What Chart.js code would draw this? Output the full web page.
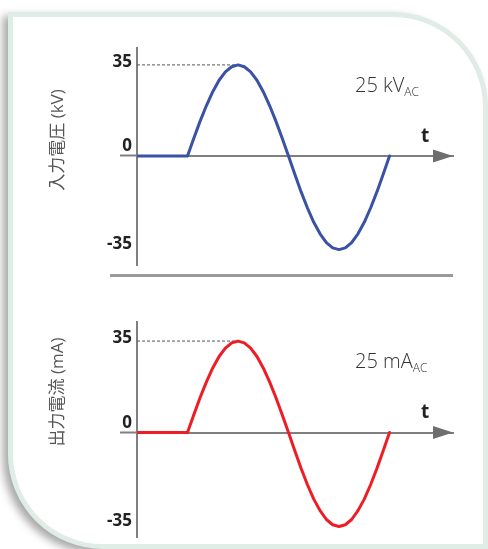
<!DOCTYPE html>
<html><head><meta charset="utf-8">
<script src="https://cdn.jsdelivr.net/npm/chart.js@4.4.1/dist/chart.umd.min.js"></script>
<style>
html,body{margin:0;padding:0;background:#fff;width:488px;height:549px;overflow:hidden;position:relative}
.card{position:absolute;left:8px;top:12px;width:480px;height:537px;box-sizing:border-box;border:5px solid #dfede6;border-radius:0 95px 0 95px;background:#fff;box-shadow:-5px 4px 8px rgba(0,0,0,0.35)}
canvas{position:absolute;left:0}
#c1{top:0}
#c2{top:275px}
.divider{position:absolute;left:110px;top:273.5px;width:343px;height:3px;background:#9a9a9a}
.ytitle{position:absolute;transform:translate(-50%,-50%) rotate(-90deg);white-space:nowrap;font:17px 'Open Sans','Noto Sans CJK JP',sans-serif;color:#555}
.unit{position:absolute;left:355px;font:300 20px/20px 'Open Sans',sans-serif;color:#333;white-space:nowrap}
.unit span{font-size:12px;position:relative;top:4px}
.t{position:absolute;left:421px;font:bold 19px/19px 'Open Sans',sans-serif;color:#222}
</style>
</head>
<body>
<div class="card"></div>
<canvas id="c1" width="488" height="275"></canvas>
<canvas id="c2" width="488" height="274"></canvas>
<div class="divider"></div>
<div class="ytitle" style="left:55px;top:140px">入力電圧 (kV)</div>
<div class="ytitle" style="left:55px;top:392px">出力電流 (mA)</div>
<div class="unit" style="top:75px">25 kV<span>AC</span></div>
<div class="unit" style="top:351px">25 mA<span>AC</span></div>
<div class="t" style="top:126px">t</div>
<div class="t" style="top:402px">t</div>
<script>
// time (arbitrary units)
const timeSteps = [0, 1, 1.125, 1.25, 1.375, 1.5, 1.625, 1.75, 1.875, 2, 2.125, 2.25, 2.375, 2.5, 2.625, 2.75, 2.875, 3,
  3.125, 3.25, 3.375, 3.5, 3.625, 3.75, 3.875, 4, 4.125, 4.25, 4.375, 4.5, 4.625, 4.75, 4.875, 5];
// input voltage (kV)
const inputVoltage = [0, 0, 6.8, 13.4, 19.4, 24.7, 29.1, 32.3, 34.3, 35, 34.3, 32.3, 29.1, 24.7, 19.4, 13.4, 6.8, 0,
  -7.0, -13.8, -20.0, -25.5, -29.9, -33.3, -35.3, -36, -35.3, -33.3, -29.9, -25.5, -20.0, -13.8, -7.0, 0];
// output current (mA)
const outputCurrent = [0, 0, 6.8, 13.4, 19.4, 24.7, 29.1, 32.3, 34.3, 35, 34.3, 32.3, 29.1, 24.7, 19.4, 13.4, 6.8, 0,
  -7.0, -13.8, -20.0, -25.5, -29.9, -33.3, -35.3, -36, -35.3, -33.3, -29.9, -25.5, -20.0, -13.8, -7.0, 0];
// y tick labels
const yTicks = [-35, 0, 35];

const AXIS = '#7f7f7f';

const arrowPlugin = {
  id: 'axisArrow',
  afterDraw(chart) {
    const xs = chart.scales.x, ys = chart.scales.y, ctx = chart.ctx;
    const py = ys.getPixelForValue(0);
    const tip = xs.right;
    ctx.save();
    ctx.fillStyle = '#6e6e6e';
    ctx.beginPath();
    ctx.moveTo(tip - 20, py - 6.5);
    ctx.lineTo(tip, py);
    ctx.lineTo(tip - 20, py + 6.5);
    ctx.closePath();
    ctx.fill();
    ctx.restore();
  }
};

function makeChart(id, values, color, yMin, yMax, padTop, padBottom) {
  const pts = timeSteps.map((t, i) => ({x: t, y: values[i]}));
  const peak = Math.max(...values);
  const peakT = timeSteps[values.indexOf(peak)];
  return new Chart(document.getElementById(id), {
    type: 'line',
    data: {
      datasets: [
        {data: [{x: 0, y: peak}, {x: peakT, y: peak}], borderColor: '#555', borderWidth: 1,
          borderDash: [3, 2], pointRadius: 0, fill: false, order: 2},
        {data: pts, borderColor: color, borderWidth: 3, pointRadius: 0, tension: 0, fill: false,
          borderCapStyle: 'round', borderJoinStyle: 'round', order: 1}
      ]
    },
    options: {
      responsive: false,
      animation: false,
      events: [],
      layout: {padding: {left: 60, right: 35, top: padTop, bottom: padBottom}},
      plugins: {legend: {display: false}, tooltip: {enabled: false}},
      scales: {
        x: {
          type: 'linear', min: 0, max: 6.257, position: {y: 0},
          ticks: {display: false},
          grid: {display: true, color: 'transparent', drawTicks: false},
          border: {display: true, color: AXIS, width: 2}
        },
        y: {
          type: 'linear', min: yMin, max: yMax, position: 'left',
          afterFit(s) { s.width = 77; },
          afterBuildTicks(s) { s.ticks = yTicks.map(v => ({value: v})); },
          ticks: {
            padding: -12, labelOffset: -3, color: '#222',
            font: {family: "'Open Sans', sans-serif", weight: 'bold', size: 17, lineHeight: 0.8},
            callback: v => v === 0 ? ['0', ''] : String(v)
          },
          grid: {display: true, drawOnChartArea: false, drawTicks: true, tickLength: 17, tickWidth: 2,
            tickColor: c => (c.tick && c.tick.value === 0) ? AXIS : 'transparent'},
          border: {display: true, color: AXIS, width: 2}
        }
      }
    },
    plugins: [arrowPlugin]
  });
}

makeChart('c1', inputVoltage, '#3a52a3', -41.9, 41.5, 48, 10);
makeChart('c2', outputCurrent, '#ee1d25', -40, 42.3, 47, 12);
</script>
</body></html>
